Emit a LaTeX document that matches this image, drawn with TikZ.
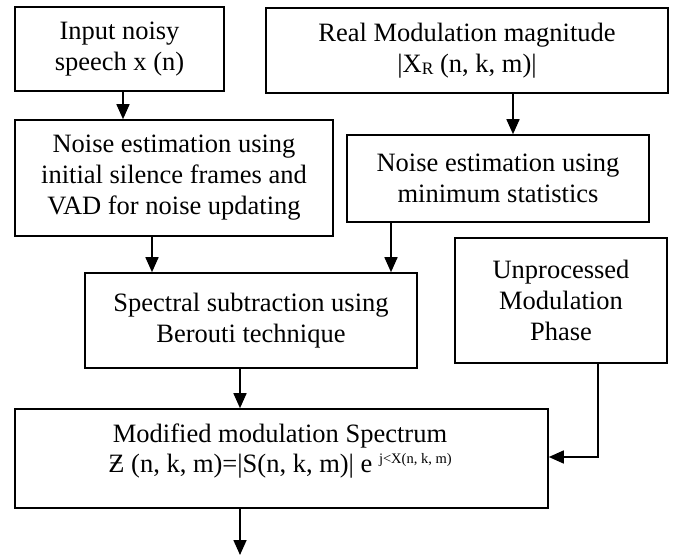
\documentclass[tikz,border=0pt]{standalone}
\usepackage{fontspec}
\setmainfont{Liberation Serif}
\usetikzlibrary{arrows.meta}
\begin{document}
\begin{tikzpicture}[x=1pt,y=-1pt,
  box/.style={draw,line width=1.6pt,inner sep=0pt,align=center,
    font=\fontsize{26.5}{31}\selectfont},
  txt/.style={inner sep=0pt,align=center,font=\fontsize{26.5}{29.5}\selectfont},
  arr/.style={line width=1.6pt,-{Triangle[length=15pt,width=13pt]}}]
\useasboundingbox (0,0) rectangle (676,556);
\node[box,minimum width=209pt,minimum height=84pt] (b1) at (119.5,49) {Input noisy\\speech x (n)};
\node[box,minimum width=402pt,minimum height=85pt] (b2) at (467,50.5)
  {Real Modulation magnitude\\|X\raisebox{-2pt}{\fontsize{17.5}{17.5}\selectfont R} (n, k, m)|};
\node[box,minimum width=318pt,minimum height=116pt] (b3) at (174,178)
  {Noise estimation using\\initial silence frames and\\VAD for noise updating};
\node[box,minimum width=302pt,minimum height=87pt] (b4) at (498,178.5)
  {Noise estimation using\\minimum statistics};
\node[box,minimum width=332pt,minimum height=95pt] (b5) at (251,320.5)
  {Spectral subtraction using\\Berouti technique};
\node[box,minimum width=212pt,minimum height=125pt] (b6) at (561,300.5)
  {Unprocessed\\Modulation\\Phase};
\node[box,minimum width=533pt,minimum height=99pt] (b7) at (281.5,458.5) {};
\node[txt] (b7t) at (280,451)
  {Modified modulation Spectrum\\Ƶ (n, k, m)=|S(n, k, m)| e \raisebox{9pt}{\fontsize{14.5}{14.5}\selectfont j<X(n, k, m)}};
\coordinate (out) at (240,555);
\draw[arr] ([xshift=3.5pt]b1.south) -- ([xshift=3.5pt]b1.south |- b3.north);
\draw[arr] ([xshift=15pt]b4.north |- b2.south) -- ([xshift=15pt]b4.north);
\draw[arr] ([xshift=-22pt]b3.south) -- ([xshift=-22pt]b3.south |- b5.north);
\draw[arr] ([xshift=-107pt]b4.south) -- ([xshift=-107pt]b4.south |- b5.north);
\draw[arr] ([xshift=-11pt]b5.south) -- ([xshift=-11pt]b5.south |- b7.north);
\draw[arr] ([xshift=37pt]b6.south) |- ([yshift=1.5pt]b7.east);
\draw[arr] (out |- b7.south) -- (out);
\end{tikzpicture}
\end{document}
